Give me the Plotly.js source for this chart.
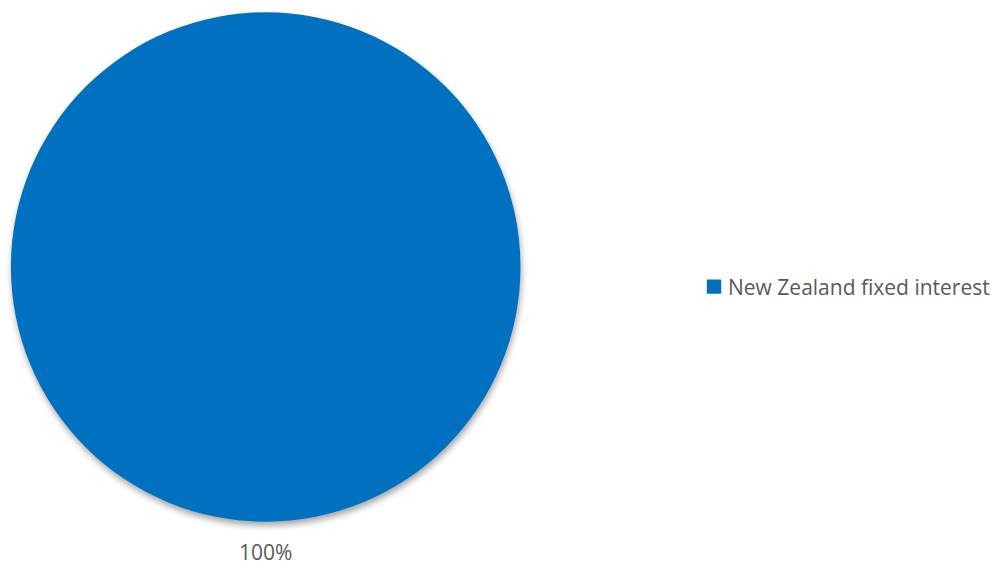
<!DOCTYPE html>
<html>
<head>
<meta charset="utf-8">
<script src="https://cdn.plot.ly/plotly-3.0.1.min.js"></script>
<style>
html,body{margin:0;padding:0;background:#fff;}
#chart{width:995px;height:568px;}
.slice path.surface{filter:drop-shadow(1px 4px 3px rgba(0,0,0,0.35));}
.legend .legendpoints path{transform:translate(26px,0px) scale(1.2);}
</style>
</head>
<body>
<div id="chart"></div>
<script>
const categories = ["New Zealand fixed interest"];
const values = [100];
const colors = ["#0070C0"];

const total = values.reduce((a, b) => a + b, 0);
const percentLabels = values.map(v => Math.round(v / total * 100) + "%");

const data = [{
  type: "pie",
  labels: categories,
  values: values,
  marker: {colors: colors, line: {width: 0}},
  sort: false,
  direction: "clockwise",
  rotation: 0,
  textinfo: "none",
  hoverinfo: "label+percent",
  domain: {x: [11/995, 521/995], y: [1 - 522/568, 1 - 12/568]}
}];

const layout = {
  width: 995,
  height: 568,
  margin: {l: 0, r: 0, t: 0, b: 0},
  paper_bgcolor: "#ffffff",
  showlegend: true,
  legend: {
    x: 689/995, y: 1 - 287/568, xanchor: "left", yanchor: "middle",
    font: {family: "Open Sans, sans-serif", size: 21, color: "#595959"},
    itemwidth: 30
  },
  annotations: [{
    text: percentLabels[0],
    x: 266/995, y: 1 - 552/568, xref: "paper", yref: "paper",
    xanchor: "center", yanchor: "middle", showarrow: false,
    font: {family: "Open Sans, sans-serif", size: 21, color: "#595959"}
  }]
};

Plotly.newPlot("chart", data, layout, {displayModeBar: false, staticPlot: true});
</script>
</body>
</html>
